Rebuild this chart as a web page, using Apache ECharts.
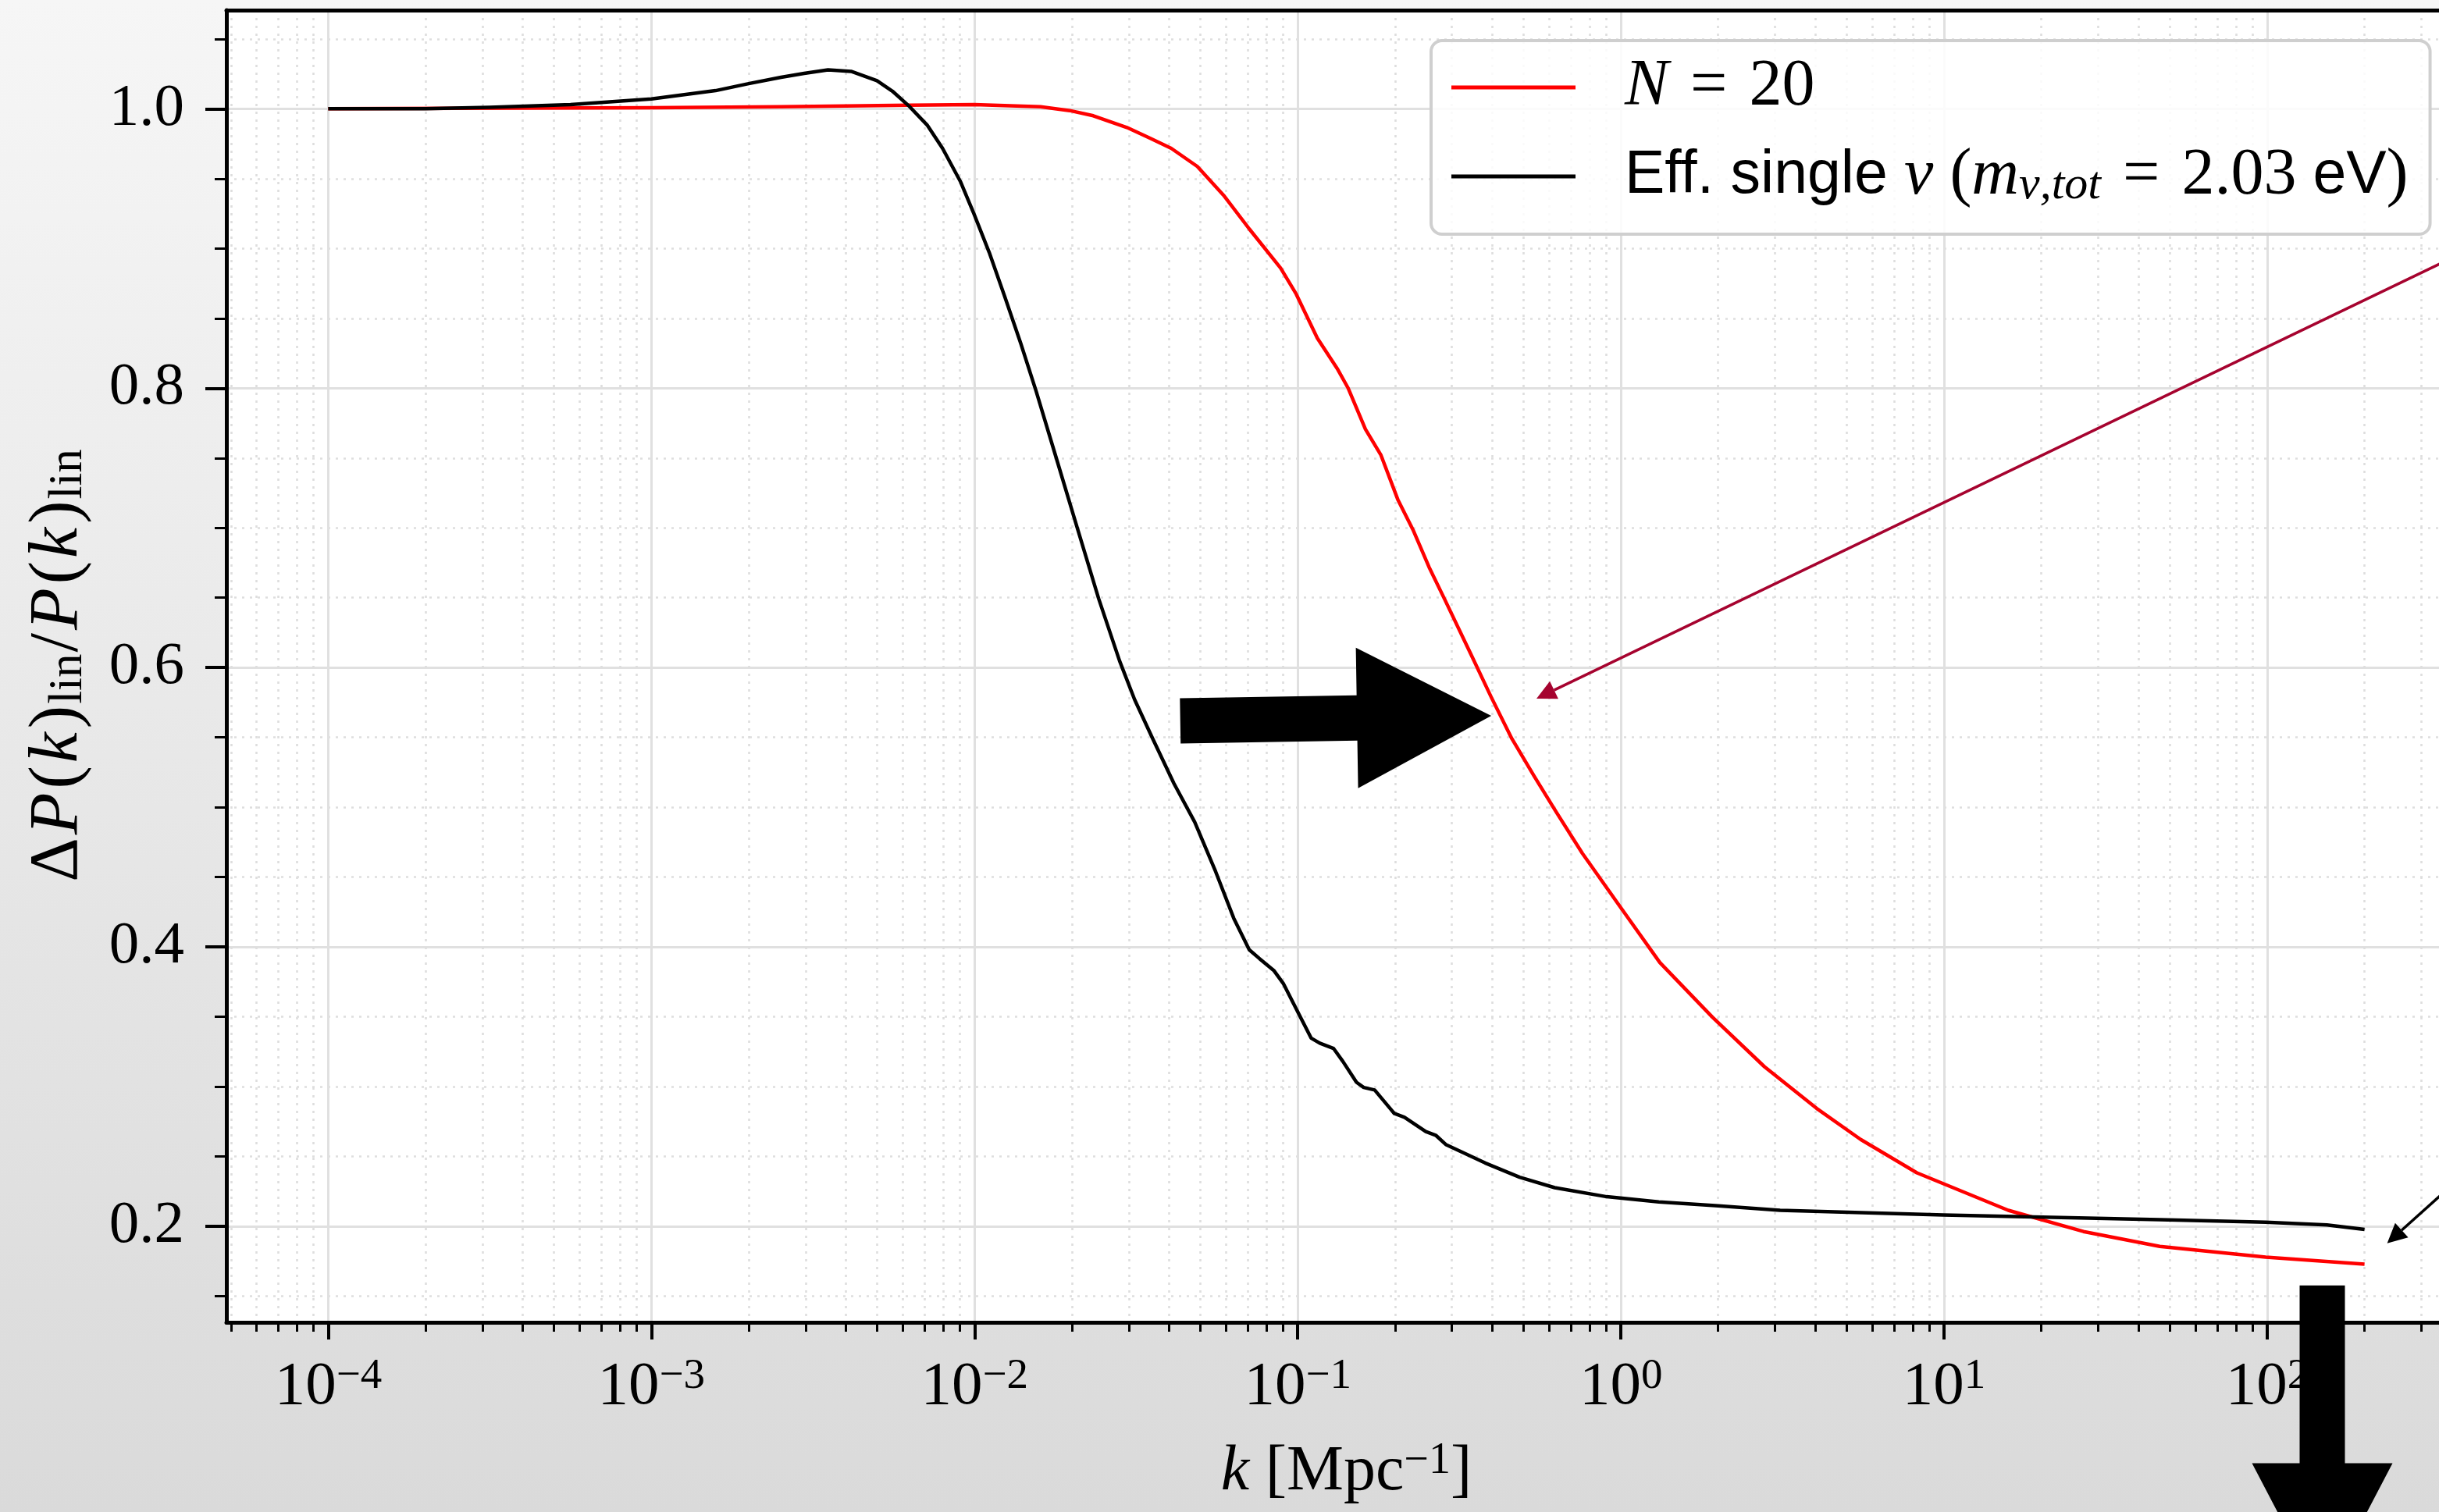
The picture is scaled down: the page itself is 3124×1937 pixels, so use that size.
<!DOCTYPE html>
<html>
<head>
<meta charset="utf-8">
<script src="https://cdn.jsdelivr.net/npm/echarts@6/dist/echarts.min.js"></script>
<style>
  html, body { margin: 0; padding: 0; }
  #chart { width: 3124px; height: 1937px; }
</style>
</head>
<body>
<div id="chart"></div>
<script>
// k in Mpc^-1, ratio = dP(k)_lin / P(k)_lin
const kRed = [1.00e-4, 1.00e-3, 2.52e-3, 6.31e-3, 0.0100, 0.0160, 0.0197, 0.0233, 0.0296, 0.0349,
  0.0406, 0.0489, 0.0589, 0.0708, 0.0885, 0.0989, 0.115, 0.133, 0.143, 0.162,
  0.181, 0.204, 0.228, 0.255, 0.284, 0.342, 0.397, 0.460, 0.540, 0.631,
  0.760, 1.00, 1.32, 1.92, 2.78, 4.03, 5.52, 8.24, 15.8, 27.0,
  46.5, 98.9, 200]
const ratioRed = [1.0, 1.0008, 1.0015, 1.0025, 1.003, 1.0015, 0.9987, 0.995, 0.9866, 0.979,
  0.9717, 0.9587, 0.9382, 0.914, 0.886, 0.8674, 0.8358, 0.8134, 0.8003, 0.7706,
  0.752, 0.7203, 0.698, 0.6718, 0.6495, 0.6104, 0.5788, 0.549, 0.522, 0.4965,
  0.467, 0.428, 0.3888, 0.3497, 0.3143, 0.2845, 0.2622, 0.2383, 0.2115, 0.1963,
  0.1856, 0.178, 0.1729]

const kBlack = [1.00e-4, 2.00e-4, 3.16e-4, 5.62e-4, 1.00e-3, 1.58e-3, 2.00e-3, 2.52e-3, 2.97e-3, 3.52e-3,
  4.15e-3, 4.99e-3, 5.57e-3, 6.24e-3, 7.13e-3, 7.96e-3, 9.06e-3, 9.95e-3, 0.0111, 0.0124,
  0.0139, 0.0155, 0.0179, 0.0208, 0.0242, 0.0281, 0.0313, 0.0356, 0.0414, 0.0480,
  0.0557, 0.0634, 0.0708, 0.0762, 0.0843, 0.0902, 0.101, 0.110, 0.117, 0.129,
  0.138, 0.152, 0.160, 0.173, 0.193, 0.199, 0.214, 0.249, 0.268, 0.288,
  0.380, 0.486, 0.624, 0.904, 1.31, 2.00, 3.11, 9.95, 46.5, 98.9,
  153, 200]
const ratioBlack = [1.0, 1.0, 1.001, 1.003, 1.007, 1.013, 1.018, 1.0225, 1.0253, 1.0279,
  1.0268, 1.0201, 1.0126, 1.0024, 0.9884, 0.9717, 0.9475, 0.925, 0.8972, 0.8655,
  0.832, 0.798, 0.750, 0.6998, 0.6495, 0.6048, 0.5769, 0.549, 0.517, 0.4894,
  0.454, 0.4205, 0.398, 0.3916, 0.3832, 0.3739, 0.3516, 0.3348, 0.3311, 0.3274,
  0.318, 0.3031, 0.2994, 0.2976, 0.2845, 0.2808, 0.278, 0.2678, 0.265, 0.2584,
  0.2454, 0.2352, 0.2277, 0.2212, 0.2175, 0.2147, 0.2115, 0.2081, 0.2048, 0.203,
  0.201, 0.1978]

// axis ticks
const decades = [-4, -3, -2, -1, 0, 1, 2]
const yMajor = [0.2, 0.4, 0.6, 0.8, 1.0]
const yMinor = [0.15, 0.25, 0.3, 0.35, 0.45, 0.5, 0.55, 0.65, 0.7, 0.75, 0.85, 0.9, 0.95, 1.05]

// annotations: [k tail, ratio tail, k tip, ratio tip]
const blockArrows = [[0.0433, 0.5619, 0.397, 0.5655], [148, 0.1577, 148, -0.0657]]
const lineArrows = [[1580, 0.963, 0.548, 0.5778], [686, 0.2845, 235, 0.1879]]
const lineArrowColors = ['#a6032f', '#000000']

const X_MIN = -4.315
const X_MAX = 2.616
const Y_MIN = 0.1313
const Y_MAX = 1.0706
const SERIF = "'Liberation Serif', 'DejaVu Serif', serif"
const SANS = "'Liberation Sans', 'DejaVu Sans', sans-serif"
const MINUS = '\u2212'
const EQ = '\u2004=\u2004'

const xMinor = []
for (let d = -5; d <= 2; d++) {
  for (let m = 2; m <= 9; m++) {
    const v = d + Math.log10(m)
    if (v > X_MIN && v < X_MAX) xMinor.push(v)
  }
}

const toPairs = (ks, ys) => ks.map((k, i) => [Math.log10(k), ys[i]])

const gridLine = { show: true, lineStyle: { color: '#e0e0e0', width: 3, type: 'solid' } }
const dotLine = { show: true, lineStyle: { color: '#dedede', width: 2.6, type: [3, 7] } }

function renderBlockArrow (params, api) {
  const a = api.coord([api.value(0), api.value(1)])
  const b = api.coord([api.value(2), api.value(3)])
  const len = Math.hypot(b[0] - a[0], b[1] - a[1])
  const ux = (b[0] - a[0]) / len
  const uy = (b[1] - a[1]) / len
  const nx = -uy
  const ny = ux
  const sw = 29
  const hw = 90
  const hl = 172
  const bx = b[0] - ux * hl
  const by = b[1] - uy * hl
  return {
    type: 'polygon',
    shape: {
      points: [
        [a[0] + nx * sw, a[1] + ny * sw],
        [bx + nx * sw, by + ny * sw],
        [bx + nx * hw, by + ny * hw],
        [b[0], b[1]],
        [bx - nx * hw, by - ny * hw],
        [bx - nx * sw, by - ny * sw],
        [a[0] - nx * sw, a[1] - ny * sw]
      ]
    },
    style: { fill: '#000' }
  }
}

function renderLineArrow (params, api) {
  const a = api.coord([api.value(0), api.value(1)])
  const b = api.coord([api.value(2), api.value(3)])
  const len = Math.hypot(b[0] - a[0], b[1] - a[1])
  const ux = (b[0] - a[0]) / len
  const uy = (b[1] - a[1]) / len
  const nx = -uy
  const ny = ux
  const hl = 25
  const hw = 12.5
  const bx = b[0] - ux * hl
  const by = b[1] - uy * hl
  const color = api.visual('color')
  return {
    type: 'group',
    children: [
      { type: 'line', shape: { x1: a[0], y1: a[1], x2: bx, y2: by }, style: { stroke: color, lineWidth: 3.5 } },
      { type: 'polygon', shape: { points: [[b[0], b[1]], [bx + nx * hw, by + ny * hw], [bx - nx * hw, by - ny * hw]] }, style: { fill: color } }
    ]
  }
}

const legendText = {
  'N = 20': '{g|\u00a0}{i|N}{r|' + EQ + '20}',
  'Eff. single': '{g|\u00a0}{s|Eff. single }{i|\u03bd}{r| (}{i|m}{sub|\u03bd,tot}{r|' + EQ + '2.03 }{s|eV}{r|)}'
}

const chart = echarts.init(document.getElementById('chart'))
chart.setOption({
  animation: false,
  backgroundColor: {
    type: 'linear', x: 0, y: 0, x2: 0, y2: 1,
    colorStops: [{ offset: 0, color: '#f6f6f6' }, { offset: 1, color: '#dadada' }]
  },
  grid: {
    left: 290,
    top: 13,
    width: 2869,
    height: 1681,
    show: true,
    backgroundColor: '#ffffff',
    borderWidth: 0,
    containLabel: false,
    outerBoundsMode: 'none'
  },
  legend: {
    data: ['N = 20', 'Eff. single'],
    orient: 'vertical',
    left: 1833,
    top: 52,
    icon: 'rect',
    itemWidth: 159,
    itemHeight: 5,
    itemGap: 30,
    padding: [18, 28, 32, 26],
    backgroundColor: 'rgba(255,255,255,0.85)',
    borderColor: '#cfcfcf',
    borderWidth: 4,
    borderRadius: 14,
    formatter: name => legendText[name],
    textStyle: {
      color: '#000',
      lineHeight: 84,
      rich: {
        g: { width: 58, lineHeight: 84 },
        r: { fontFamily: SERIF, fontSize: 84, lineHeight: 84 },
        i: { fontFamily: SERIF, fontStyle: 'italic', fontSize: 84, lineHeight: 84 },
        s: { fontFamily: SANS, fontSize: 77, lineHeight: 84 },
        sub: { fontFamily: SERIF, fontStyle: 'italic', fontSize: 60, lineHeight: 58, verticalAlign: 'bottom' }
      }
    }
  },
  xAxis: [
    {
      type: 'value',
      min: X_MIN,
      max: X_MAX,
      position: 'bottom',
      name: '{i|k}{r| [Mpc}{s|' + MINUS + '1}{r|]}',
      nameLocation: 'middle',
      nameGap: 150,
      nameTextStyle: {
        color: '#000',
        rich: {
          i: { fontFamily: SERIF, fontStyle: 'italic', fontSize: 82, lineHeight: 84 },
          r: { fontFamily: SERIF, fontSize: 82, lineHeight: 84 },
          s: { fontFamily: SERIF, fontSize: 56, lineHeight: 42, verticalAlign: 'top' }
        }
      },
      axisLine: { show: true, onZero: false, lineStyle: { color: '#000', width: 5 } },
      axisTick: { show: true, customValues: decades, length: 22, lineStyle: { color: '#000', width: 4 } },
      axisLabel: {
        show: true,
        customValues: decades,
        margin: 42,
        formatter: v => '{b|10}{s|' + (v < 0 ? MINUS + Math.abs(v) : v) + '}',
        rich: {
          b: { fontFamily: SERIF, fontSize: 79, lineHeight: 82, color: '#000' },
          s: { fontFamily: SERIF, fontSize: 55, lineHeight: 40, verticalAlign: 'top', color: '#000' }
        }
      },
      splitLine: gridLine
    },
    {
      type: 'value',
      min: X_MIN,
      max: X_MAX,
      position: 'bottom',
      axisLine: { show: false, onZero: false },
      axisTick: { show: true, customValues: xMinor, length: 12, lineStyle: { color: '#000', width: 3 } },
      axisLabel: { show: false },
      splitLine: dotLine
    },
    {
      type: 'value',
      min: X_MIN,
      max: X_MAX,
      position: 'top',
      axisLine: { show: true, onZero: false, lineStyle: { color: '#000', width: 5 } },
      axisTick: { show: false },
      axisLabel: { show: false },
      splitLine: { show: false }
    }
  ],
  yAxis: [
    {
      type: 'value',
      min: Y_MIN,
      max: Y_MAX,
      position: 'left',
      name: '{r|\u0394}{i|P}{r|(}{i|k}{r|)}{sub|lin}{r|/}{i|P}{r|(}{i|k}{r|)}{sub|lin}',
      nameLocation: 'middle',
      nameRotate: 90,
      nameGap: 172,
      nameTextStyle: {
        color: '#000',
        rich: {
          i: { fontFamily: SERIF, fontStyle: 'italic', fontSize: 88, lineHeight: 86, padding: [0, 3, 0, 2] },
          r: { fontFamily: SERIF, fontSize: 88, lineHeight: 86, padding: [0, 2, 0, 2] },
          sub: { fontFamily: SERIF, fontSize: 61, lineHeight: 44, verticalAlign: 'bottom' }
        }
      },
      axisLine: { show: true, onZero: false, lineStyle: { color: '#000', width: 5 } },
      axisTick: { show: true, customValues: yMajor, length: 27, lineStyle: { color: '#000', width: 4 } },
      axisLabel: {
        show: true,
        customValues: yMajor,
        margin: 54,
        formatter: v => v.toFixed(1),
        fontFamily: SERIF,
        fontSize: 77,
        color: '#000'
      },
      splitLine: gridLine
    },
    {
      type: 'value',
      min: Y_MIN,
      max: Y_MAX,
      position: 'left',
      axisLine: { show: false, onZero: false },
      axisTick: { show: true, customValues: yMinor, length: 15, lineStyle: { color: '#000', width: 3 } },
      axisLabel: { show: false },
      splitLine: dotLine
    }
  ],
  series: [
    {
      name: 'N = 20',
      type: 'line',
      xAxisIndex: 0,
      yAxisIndex: 0,
      data: toPairs(kRed, ratioRed),
      showSymbol: false,
      symbol: 'none',
      color: '#ff0000',
      lineStyle: { color: '#ff0000', width: 4.5, join: 'round' },
      z: 3
    },
    {
      name: 'Eff. single',
      type: 'line',
      xAxisIndex: 0,
      yAxisIndex: 0,
      data: toPairs(kBlack, ratioBlack),
      showSymbol: false,
      symbol: 'none',
      color: '#000000',
      lineStyle: { color: '#000000', width: 4.5, join: 'round' },
      z: 4
    },
    {
      type: 'custom',
      name: 'arrows',
      xAxisIndex: 0,
      yAxisIndex: 0,
      clip: false,
      z: 10,
      renderItem: renderBlockArrow,
      data: blockArrows.map(r => [Math.log10(r[0]), r[1], Math.log10(r[2]), r[3]])
    },
    {
      type: 'custom',
      name: 'pointers',
      xAxisIndex: 0,
      yAxisIndex: 0,
      clip: false,
      z: 10,
      renderItem: renderLineArrow,
      data: lineArrows.map((r, i) => ({
        value: [Math.log10(r[0]), r[1], Math.log10(r[2]), r[3]],
        itemStyle: { color: lineArrowColors[i] }
      }))
    }
  ]
})
</script>
</body>
</html>
